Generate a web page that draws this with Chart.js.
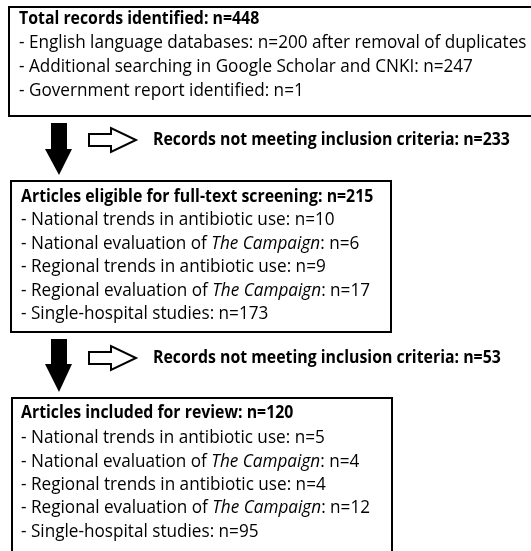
<!DOCTYPE html>
<html>
<head>
<meta charset="utf-8">
<script src="https://cdn.jsdelivr.net/npm/chart.js@4.4.0/dist/chart.umd.min.js"></script>
<style>
  html, body { margin: 0; padding: 0; background: #fff; }
  #wrap { width: 531px; height: 551px; position: relative; }
</style>
</head>
<body>
<div id="wrap"><canvas id="flujo"></canvas></div>
<script>
// data
const stageTitles = ['Total records identified', 'Articles eligible for full-text screening', 'Articles included for review'];
const stageTotals = [448, 215, 120];
const sourceLabels = ['English language databases', 'Additional searching in Google Scholar and CNKI', 'Government report identified'];
const sourceCounts = [200, 247, 1];
const sourceNotes = [' after removal of duplicates', '', ''];
const categoryLabels = ['National trends in antibiotic use', 'National evaluation of *The Campaign*', 'Regional trends in antibiotic use', 'Regional evaluation of *The Campaign*', 'Single-hospital studies'];
const eligibleCounts = [10, 6, 9, 17, 173];
const includedCounts = [5, 4, 4, 12, 95];
const excludedLabel = 'Records not meeting inclusion criteria';
const excludedCounts = [233, 53];

const fam = '"Open Sans", sans-serif';
const alto = 1.1; // text is a bit taller than Open Sans for its width
let fontPx = 16, boldPx = 16, sqReg = 1, sqBold = 1;

// size the fonts so that two reference lines take their width in the picture
function fitFont(ctx) {
    ctx.font = '100px ' + fam;
    let w = ctx.measureText('- ' + sourceLabels[0] + ': n=' + sourceCounts[0] + sourceNotes[0]).width;
    fontPx = 100 * 508 / w * alto;
    sqReg = 1 / alto;
    ctx.font = 'bold 100px ' + fam;
    let wb = ctx.measureText(excludedLabel + ': n=' + excludedCounts[0]).width;
    boldPx = 100 * 357 / wb * alto;
    sqBold = 1 / alto;
}

// draws text with *italic* parts
function richText(ctx, txt, x, y, bold) {
    let parts = txt.split('*');
    let sq = bold ? sqBold : sqReg;
    ctx.save();
    ctx.translate(x, y);
    ctx.scale(sq, 1);
    let cx = 0;
    parts.forEach(function (p, i) {
        let it = i % 2 == 1;
        ctx.font = (it ? 'italic ' : '') + (bold ? 'bold ' + boldPx : fontPx) + 'px ' + fam;
        ctx.fillText(p, cx, 0);
        cx += ctx.measureText(p).width;
    });
    ctx.restore();
}

function caja(ctx, px, py, x0, y0, x1, y1) {
    ctx.lineWidth = 2;
    ctx.strokeStyle = '#000';
    ctx.strokeRect(px(x0), py(y0), px(x1) - px(x0), py(y1) - py(y0));
}

function flechaAbajo(ctx, px, py, top, headStart, tip) {
    ctx.fillStyle = '#000';
    ctx.beginPath();
    ctx.moveTo(px(51), py(top));
    ctx.lineTo(px(67), py(top));
    ctx.lineTo(px(67), py(headStart));
    ctx.lineTo(px(72), py(headStart));
    ctx.lineTo(px(59), py(tip));
    ctx.lineTo(px(45), py(headStart));
    ctx.lineTo(px(51), py(headStart));
    ctx.closePath();
    ctx.fill();
}

function flechaHueca(ctx, px, py, cy) {
    ctx.fillStyle = '#fff';
    ctx.strokeStyle = '#000';
    ctx.lineWidth = 2;
    ctx.beginPath();
    ctx.moveTo(px(89), py(cy - 6));
    ctx.lineTo(px(111), py(cy - 6));
    ctx.lineTo(px(111), py(cy - 12));
    ctx.lineTo(px(136), py(cy));
    ctx.lineTo(px(111), py(cy + 12));
    ctx.lineTo(px(111), py(cy + 6));
    ctx.lineTo(px(89), py(cy + 6));
    ctx.closePath();
    ctx.fill();
    ctx.stroke();
}

const diagrama = {
    id: 'diagrama',
    beforeDraw: function (chart) {
        let ctx = chart.ctx;
        ctx.save();
        ctx.fillStyle = '#fff';
        ctx.fillRect(0, 0, chart.width, chart.height);
        ctx.restore();
    },
    afterDraw: function (chart) {
        let ctx = chart.ctx;
        let xs = chart.scales.x, ys = chart.scales.y;
        let px = v => xs.getPixelForValue(v);
        let py = v => ys.getPixelForValue(v);
        ctx.save();
        fitFont(ctx);
        ctx.textBaseline = 'middle';

        // box 1
        caja(ctx, px, py, 9, 7, 545, 116);
        ctx.fillStyle = '#000';
        richText(ctx, stageTitles[0] + ': n=' + stageTotals[0], px(19), py(19), true);
        sourceLabels.forEach(function (l, i) {
            richText(ctx, '- ' + l + ': n=' + sourceCounts[i] + sourceNotes[i], px(19), py(43 + i * 24), false);
        });

        // exclusion step 1
        flechaAbajo(ctx, px, py, 123, 149, 175);
        flechaHueca(ctx, px, py, 140);
        ctx.fillStyle = '#000';
        richText(ctx, excludedLabel + ': n=' + excludedCounts[0], px(153), py(140), true);

        // box 2
        caja(ctx, px, py, 11, 181, 391, 332);
        ctx.fillStyle = '#000';
        richText(ctx, stageTitles[1] + ': n=' + stageTotals[1], px(21), py(197), true);
        categoryLabels.forEach(function (l, i) {
            richText(ctx, '- ' + l + ': n=' + eligibleCounts[i], px(21), py(220 + i * 23.5), false);
        });

        // exclusion step 2
        flechaAbajo(ctx, px, py, 339, 364, 392);
        flechaHueca(ctx, px, py, 358);
        ctx.fillStyle = '#000';
        richText(ctx, excludedLabel + ': n=' + excludedCounts[1], px(153), py(358), true);

        // box 3
        caja(ctx, px, py, 12, 398, 392, 570);
        ctx.fillStyle = '#000';
        richText(ctx, stageTitles[2] + ': n=' + stageTotals[2], px(21), py(413), true);
        categoryLabels.forEach(function (l, i) {
            richText(ctx, '- ' + l + ': n=' + includedCounts[i], px(21), py(438 + i * 23.3), false);
        });
        ctx.restore();
    }
};

new Chart(document.getElementById('flujo'), {
    type: 'scatter',
    data: { datasets: [] },
    options: {
        responsive: true,
        maintainAspectRatio: false,
        animation: false,
        layout: { padding: 0 },
        scales: {
            x: { type: 'linear', min: 0, max: 531, display: false },
            y: { type: 'linear', min: 0, max: 551, reverse: true, display: false }
        },
        plugins: {
            legend: { display: false },
            tooltip: { enabled: false }
        }
    },
    plugins: [diagrama]
});
</script>
</body>
</html>
